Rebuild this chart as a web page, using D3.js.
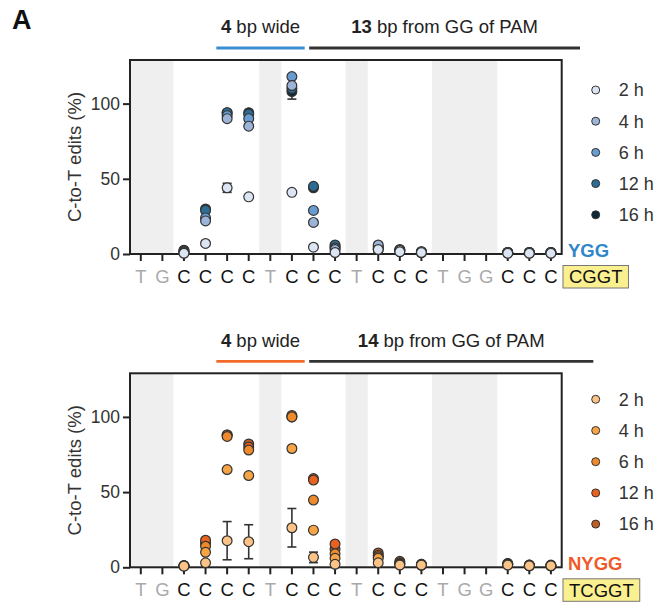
<!DOCTYPE html>
<html>
<head>
<meta charset="utf-8">
<script src="https://cdn.jsdelivr.net/npm/d3@7"></script>
<style>
  body { margin: 0; background: #fff; }
  svg { display: block; font-family: "Liberation Sans", Arial, sans-serif; }
</style>
</head>
<body>
<div class="svg-container"></div>
<script>
// ---- data ----
const letters = ["T","G","C","C","C","C","T","C","C","C","T","C","C","C","T","G","G","C","C","C"];
const timepoints = ["2 h","4 h","6 h","12 h","16 h"];

// YGG panel (CGGT), % C-to-T edits per position
const ygg2h  = [null,null,0.5, 7,44,38,null, 41, 4.5,1,  null,3,  1.5,1,  null,null,null,0.5,0.5,0.5];
const ygg4h  = [null,null,1,  22,90,85,null,112,21,  3,  null,6,  2.5,1.5,null,null,null,1,  0.8,0.8];
const ygg6h  = [null,null,1.5,24,92,90,null,118,29,  4,  null,5,  3,  1.5,null,null,null,1,  1,  1];
const ygg12h = [null,null,2,  29,94,93,null,110,45,  6,  null,4,  2.5,1,  null,null,null,1,  1,  1];
const ygg16h = [null,null,2.5,30,94,94,null,108,44,  5,  null,3,  2,  1,  null,null,null,1,  1,  1];
// SD (only where visible)
const ygg2hErr  = [0,0,0,0,3,0,0,0,0,0,0,0,0,0,0,0,0,0,0,0];
const ygg16hErr = [0,0,0,0,0,0,0,5,0,0,0,0,0,0,0,0,0,0,0,0];

// NYGG panel (TCGGT)
const nygg2h  = [null,null,0.8, 3,17.7,17,null, 26.3, 6.6,2,   null,3,  1.5,1.5,null,null,null,1.5,1,  1];
const nygg4h  = [null,null,1,  10,65,  61,null, 79,  24.7,6,   null,6,  2,  1.5,null,null,null,2,  1,  1];
const nygg6h  = [null,null,1,  14,87,  78,null,100,  44.7,9,   null,7,  2.5,1.5,null,null,null,2,  1,  1];
const nygg12h = [null,null,1,  18,88,  80,null,100,  58,  15.5,null,8,  3,  2,  null,null,null,2.5,1.5,1];
const nygg16h = [null,null,1,  16,88,  82,null,101,  59,  12,  null,9.5,4,  2,  null,null,null,2.5,1.5,1.5];
const nygg2hErr = [0,0,0,0,12.7,11.3,0,12.8,3.5,0,0,0,0,0,0,0,0,0,0,0];

const yTicks = [0, 50, 100];

// ---- layout ----
const width = 660, height = 609;
const plotLeft = 130, plotRight = 561.7, plotH = 194;
const yMax = 129;

const svg = d3.select('.svg-container')
  .append('svg')
  .attr('width', width)
  .attr('height', height);

svg.append('text')
  .attr('x', 12).attr('y', 29)
  .attr('font-size', 27).attr('font-weight', 'bold')
  .attr('fill', '#111')
  .text('A');

const x = d3.scaleBand()
  .domain(d3.range(letters.length))
  .range([plotLeft, plotRight]);

function drawPanel(p) {
  const top = p.top, bottom = p.top + plotH;
  const y = d3.scaleLinear().domain([0, yMax]).range([bottom, top]);
  const g = svg.append('g');
  const bw = x.bandwidth();
  const cx = i => x(i) + bw / 2;

  // shaded non-C columns
  g.selectAll('.shade')
    .data(d3.range(letters.length).filter(i => letters[i] !== 'C'))
    .enter().append('rect')
      .attr('x', i => x(i) - 0.3)
      .attr('y', top)
      .attr('width', bw + 0.6)
      .attr('height', plotH)
      .attr('fill', '#efefef');

  // y axis
  const yAxis = g.append('g')
    .attr('transform', `translate(${plotLeft},0)`)
    .call(d3.axisLeft(y).tickValues(yTicks).tickSize(7).tickPadding(3));
  yAxis.select('.domain').remove();
  yAxis.selectAll('line').attr('stroke', '#222').attr('stroke-width', 2);
  yAxis.selectAll('text')
    .attr('font-size', 17.5).attr('fill', '#333')
    .attr('font-family', '"Liberation Sans", Arial, sans-serif');

  // x axis with sequence letters
  const xAxis = g.append('g')
    .attr('transform', `translate(0,${bottom})`)
    .call(d3.axisBottom(x).tickSize(7).tickPadding(9).tickFormat(i => letters[i]));
  xAxis.select('.domain').remove();
  xAxis.selectAll('line').attr('stroke', '#222').attr('stroke-width', 2);
  xAxis.selectAll('text')
    .attr('font-size', 18.5)
    .attr('font-family', '"Liberation Sans", Arial, sans-serif')
    .attr('fill', i => letters[i] === 'C' ? '#111' : '#aaa');

  // frame
  g.append('rect')
    .attr('x', plotLeft).attr('y', top)
    .attr('width', plotRight - plotLeft).attr('height', plotH)
    .attr('fill', 'none').attr('stroke', '#222').attr('stroke-width', 2);

  // y label
  g.append('text')
    .attr('transform', `translate(${75},${(top + bottom) / 2}) rotate(-90)`)
    .attr('text-anchor', 'middle')
    .attr('dy', '0.35em')
    .attr('font-size', 18.5).attr('fill', '#333')
    .text('C-to-T edits (%)');

  // header lines and titles
  const lineY = top - 12;
  const c1 = x(4), c2 = x(7) + bw + 2;
  const d1 = c2 + 4.5, d2 = plotRight + p.darkExtra;
  g.append('line').attr('x1', c1).attr('x2', c2).attr('y1', lineY).attr('y2', lineY)
    .attr('stroke', p.accent).attr('stroke-width', 2.8);
  g.append('line').attr('x1', d1).attr('x2', d2).attr('y1', lineY).attr('y2', lineY)
    .attr('stroke', '#333').attr('stroke-width', 2.8);
  const t1 = g.append('text')
    .attr('x', (c1 + c2) / 2).attr('y', top - 33).attr('dy', '0.35em')
    .attr('text-anchor', 'middle').attr('font-size', 18.5).attr('fill', '#222');
  t1.append('tspan').attr('font-weight', 'bold').text('4');
  t1.append('tspan').text(' bp wide');
  const t2 = g.append('text')
    .attr('x', (d1 + d2) / 2).attr('y', top - 33).attr('dy', '0.35em')
    .attr('text-anchor', 'middle').attr('font-size', 18.5).attr('fill', '#222');
  t2.append('tspan').attr('font-weight', 'bold').text(p.distance);
  t2.append('tspan').text(' bp from GG of PAM');

  // PAM label and boxed sequence
  g.append('text')
    .attr('x', 568).attr('y', bottom - 3.5).attr('dy', '0.35em')
    .attr('font-size', 18.5).attr('font-weight', 'bold')
    .attr('fill', p.tagColor)
    .text(p.pam);
  const boxT = g.append('text')
    .attr('x', 569).attr('y', bottom + 23).attr('dy', '0.35em')
    .attr('font-size', 18.5).attr('fill', '#111')
    .text(p.seq);
  const bb = boxT.node().getBBox();
  g.insert('rect', () => boxT.node())
    .attr('x', 563).attr('y', bottom + 11.5)
    .attr('width', bb.width + 12).attr('height', 22.5)
    .attr('fill', '#fbf08f').attr('stroke', '#777').attr('stroke-width', 1);

  // error bars
  p.series.forEach((s, k) => {
    const err = p.errors[k];
    if (!err) return;
    const idx = d3.range(letters.length).filter(i => s[i] != null && err[i] > 0);
    const eb = g.selectAll(null).data(idx).enter().append('g')
      .attr('stroke', '#333').attr('stroke-width', 1.6);
    eb.append('line')
      .attr('x1', cx).attr('x2', cx)
      .attr('y1', i => y(s[i] - err[i])).attr('y2', i => y(s[i] + err[i]));
    eb.append('line')
      .attr('x1', i => cx(i) - 4.5).attr('x2', i => cx(i) + 4.5)
      .attr('y1', i => y(s[i] - err[i])).attr('y2', i => y(s[i] - err[i]));
    eb.append('line')
      .attr('x1', i => cx(i) - 4.5).attr('x2', i => cx(i) + 4.5)
      .attr('y1', i => y(s[i] + err[i])).attr('y2', i => y(s[i] + err[i]));
  });

  // points: latest timepoint first so 2 h sits on top
  for (let k = p.series.length - 1; k >= 0; k--) {
    const s = p.series[k];
    g.selectAll(null)
      .data(d3.range(letters.length).filter(i => s[i] != null))
      .enter().append('circle')
        .attr('cx', cx)
        .attr('cy', i => y(s[i]))
        .attr('r', 4.9)
        .attr('fill', p.colors[k])
        .attr('stroke', '#333').attr('stroke-width', 1.2);
  }

  // legend
  const legend = g.selectAll('.legend')
    .data(timepoints)
    .enter().append('g')
      .attr('transform', (d, i) => `translate(595.7,${top + p.legendOffset + i * 31.2})`);
  legend.append('circle')
    .attr('r', 4)
    .attr('fill', (d, i) => p.colors[i])
    .attr('stroke', '#333').attr('stroke-width', 1);
  legend.append('text')
    .attr('x', 23).attr('dy', '0.35em')
    .attr('font-size', 18).attr('fill', '#333')
    .text(d => d);
}

drawPanel({
  top: 60,
  series: [ygg2h, ygg4h, ygg6h, ygg12h, ygg16h],
  errors: [ygg2hErr, null, null, null, ygg16hErr],
  colors: ['#dce5f3', '#9db4d9', '#689bd0', '#2d6c93', '#0c2738'],
  accent: '#3a8fd4',
  tagColor: '#2f86c9',
  pam: 'YGG',
  seq: 'CGGT',
  distance: '13',
  darkExtra: 18.3,
  legendOffset: 30
});

drawPanel({
  top: 373.3,
  series: [nygg2h, nygg4h, nygg6h, nygg12h, nygg16h],
  errors: [nygg2hErr, null, null, null, null],
  colors: ['#fcc387', '#f7a445', '#ef8a2c', '#e9621f', '#bd5e27'],
  accent: '#f26a2a',
  tagColor: '#f05a2a',
  pam: 'NYGG',
  seq: 'TCGGT',
  distance: '14',
  darkExtra: 31.6,
  legendOffset: 26
});
</script>
</body>
</html>
